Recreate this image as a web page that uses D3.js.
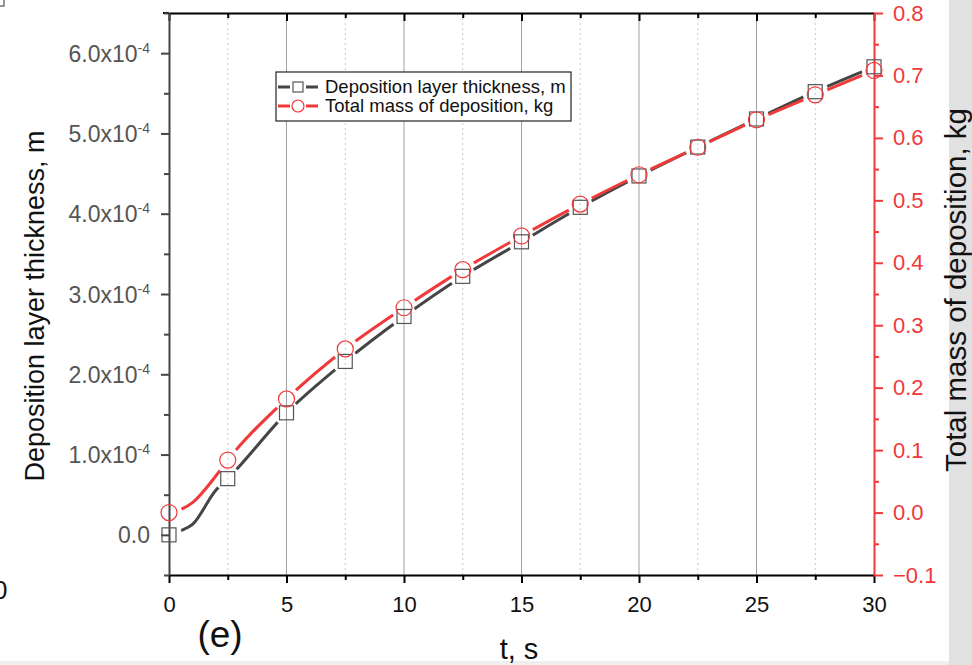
<!doctype html>
<html lang="en">
<head>
<meta charset="utf-8">
<title>Deposition layer thickness and total mass</title>
<script src="https://d3js.org/d3.v7.min.js"></script>
<style>
  body { margin: 0; background: #fff; }
  svg { display: block; font-family: "Liberation Sans", Arial, sans-serif; }
</style>
</head>
<body>
<div id="chart"></div>
<script>
// marker samples (t in s)
const markerT = [0, 2.5, 5, 7.5, 10, 12.5, 15, 17.5, 20, 22.5, 25, 27.5, 30];
// deposition layer thickness, units of 1e-4 m
const thickness = [0, 0.70, 1.52, 2.16, 2.72, 3.22, 3.65, 4.08, 4.47, 4.83, 5.18, 5.52, 5.83];
// total mass of deposition, kg
const mass = [0, 0.084, 0.182, 0.262, 0.328, 0.389, 0.443, 0.494, 0.541, 0.585, 0.629, 0.669, 0.708];

// curves, read a bit denser near the start
const lineT = [0, 0.5, 1, 2, 2.5, 5, 7.5, 10, 12.5, 15, 17.5, 20, 22.5, 25, 27.5, 30];
const thicknessLine = [0, 0.05, 0.13, 0.56, 0.70, 1.52, 2.16, 2.72, 3.22, 3.65, 4.08, 4.47, 4.83, 5.18, 5.52, 5.83];
const massLine = [0, 0.005, 0.016, 0.059, 0.084, 0.182, 0.262, 0.328, 0.389, 0.443, 0.494, 0.541, 0.585, 0.629, 0.669, 0.708];

const xMajor = [0, 5, 10, 15, 20, 25, 30];
const xMinor = [2.5, 7.5, 12.5, 17.5, 22.5, 27.5];
const leftMajor = [0, 1, 2, 3, 4, 5, 6];
const leftMinor = [-0.5, 0.5, 1.5, 2.5, 3.5, 4.5, 5.5, 6.5];
const rightMajor = [-0.1, 0, 0.1, 0.2, 0.3, 0.4, 0.5, 0.6, 0.7, 0.8];
const rightMinor = [-0.05, 0.05, 0.15, 0.25, 0.35, 0.45, 0.55, 0.65, 0.75];

const W = 972, H = 665;
const margin = {top: 13, right: 98, bottom: 90, left: 169};
const width = W - margin.left - margin.right,
      height = H - margin.top - margin.bottom;

const RED = "#f03a3a", GRAY = "#454545";

const svg = d3.select("#chart").append("svg")
  .attr("width", W).attr("height", H);

// page edges (cropped figure)
svg.append("rect").attr("x", 949).attr("y", 0).attr("width", 23).attr("height", H).attr("fill", "#e1e1e1");
svg.append("rect").attr("x", 0).attr("y", 661).attr("width", 949).attr("height", 4).attr("fill", "#efefef");
svg.append("text").attr("x", -7).attr("y", 599).style("font-size", "26px").attr("fill", "#111").text("0");
svg.append("rect").attr("x", -4).attr("y", -4).attr("width", 8).attr("height", 10)
  .attr("fill", "none").attr("stroke", "#333");

const g = svg.append("g").attr("transform", `translate(${margin.left},${margin.top})`);

const x = d3.scaleLinear().domain([0, 30]).range([0, width]);
const yL = d3.scaleLinear().domain([-0.5, 6.5]).range([height, 0]);
const yR = d3.scaleLinear().domain([-0.1, 0.8]).range([height, 0]);

// vertical grid
g.append("g").selectAll("line").data(xMajor.filter(d => d > 0 && d < 30)).join("line")
  .attr("x1", d => x(d)).attr("x2", d => x(d)).attr("y1", 0).attr("y2", height)
  .attr("stroke", "#a0a0a0").attr("stroke-width", 1);
g.append("g").selectAll("line").data(xMinor).join("line")
  .attr("x1", d => x(d)).attr("x2", d => x(d)).attr("y1", 0).attr("y2", height)
  .attr("stroke", "#c8c8c8").attr("stroke-width", 1).attr("stroke-dasharray", "2,3");

// bottom axis
const xAxis = g.append("g").attr("transform", `translate(0,${height})`)
  .call(d3.axisBottom(x).tickValues(xMajor).tickSize(8).tickSizeOuter(0).tickPadding(13).tickFormat(d3.format("d")));
xAxis.select(".domain").attr("stroke", "#000").attr("stroke-width", 2);
xAxis.selectAll(".tick line").attr("stroke", "#000").attr("stroke-width", 2);
xAxis.selectAll("text").style("font-size", "22px").attr("fill", "#111");
g.append("g").attr("transform", `translate(0,${height})`)
  .call(d3.axisBottom(x).tickValues(xMinor).tickSize(5).tickFormat(""))
  .call(a => a.select(".domain").remove())
  .selectAll(".tick line").attr("stroke", "#000").attr("stroke-width", 2);

// top axis, ticks pointing in
const topAxis = g.append("g")
  .call(d3.axisTop(x).tickValues(xMajor).tickSize(-8).tickSizeOuter(0).tickFormat(""));
topAxis.select(".domain").attr("stroke", "#000").attr("stroke-width", 2);
topAxis.selectAll(".tick line").attr("stroke", "#000").attr("stroke-width", 2);
g.append("g")
  .call(d3.axisTop(x).tickValues(xMinor).tickSize(-5).tickFormat(""))
  .call(a => a.select(".domain").remove())
  .selectAll(".tick line").attr("stroke", "#000").attr("stroke-width", 2);
g.append("line").attr("x1", -6).attr("x2", 0).attr("y1", 0).attr("y2", 0).attr("stroke", "#000").attr("stroke-width", 2);

// left axis
const leftAxis = g.append("g")
  .call(d3.axisLeft(yL).tickValues(leftMajor).tickSize(8).tickSizeOuter(0).tickFormat(""));
leftAxis.select(".domain").attr("stroke", GRAY).attr("stroke-width", 2);
leftAxis.selectAll(".tick line").attr("stroke", GRAY).attr("stroke-width", 2);
leftAxis.selectAll(".tick").append("text")
  .attr("x", -19).attr("dy", "0.35em").attr("text-anchor", "end")
  .attr("fill", "#555").style("font-size", "23px")
  .each(function(d) {
    const t = d3.select(this);
    if (d === 0) { t.text("0.0"); return; }
    t.append("tspan").text(d.toFixed(1) + "x10");
    t.append("tspan").attr("dy", "-9").style("font-size", "14px").text("-4");
  });
g.append("g")
  .call(d3.axisLeft(yL).tickValues(leftMinor).tickSize(5).tickFormat(""))
  .call(a => a.select(".domain").remove())
  .selectAll(".tick line").attr("stroke", GRAY).attr("stroke-width", 2);

// right axis (red)
const rightAxis = g.append("g").attr("transform", `translate(${width},0)`)
  .call(d3.axisRight(yR).tickValues(rightMajor).tickSize(9).tickSizeOuter(0).tickPadding(10).tickFormat(d3.format(".1f")));
rightAxis.select(".domain").attr("stroke", RED).attr("stroke-width", 2);
rightAxis.selectAll(".tick line").attr("stroke", RED).attr("stroke-width", 2);
rightAxis.selectAll("text").attr("fill", RED).style("font-size", "22px");
g.append("g").attr("transform", `translate(${width},0)`)
  .call(d3.axisRight(yR).tickValues(rightMinor).tickSize(5).tickFormat(""))
  .call(a => a.select(".domain").remove())
  .selectAll(".tick line").attr("stroke", RED).attr("stroke-width", 2);

// axis titles
svg.append("text")
  .attr("transform", "translate(44,306) rotate(-90)")
  .attr("text-anchor", "middle").style("font-size", "27px").attr("fill", "#111")
  .text("Deposition layer thickness, m");
svg.append("text")
  .attr("transform", "translate(966,290) rotate(-90)")
  .attr("text-anchor", "middle").style("font-size", "29.5px").attr("fill", "#111")
  .text("Total mass of deposition, kg");
svg.append("text")
  .attr("x", 519).attr("y", 659)
  .attr("text-anchor", "middle").style("font-size", "29px").attr("fill", "#111")
  .text("t, s");
svg.append("text")
  .attr("x", 220).attr("y", 647)
  .attr("text-anchor", "middle").style("font-size", "37px").attr("fill", "#111")
  .text("(e)");

// masks so the lines stop short of the markers
const defs = svg.append("defs");
function makeMask(id, ys) {
  const m = defs.append("mask").attr("id", id).attr("maskUnits", "userSpaceOnUse")
    .attr("x", -50).attr("y", -50).attr("width", W + 100).attr("height", H + 100);
  m.append("rect").attr("x", -50).attr("y", -50).attr("width", W + 100).attr("height", H + 100).attr("fill", "#fff");
  m.selectAll("circle").data(markerT).join("circle")
    .attr("cx", d => x(d)).attr("cy", (d, i) => ys(i)).attr("r", 13).attr("fill", "#000");
}
makeMask("mThick", i => yL(thickness[i]));
makeMask("mMass", i => yR(mass[i]));

const lineThick = d3.line().x((d, i) => x(lineT[i])).y(d => yL(d)).curve(d3.curveMonotoneX);
const lineMass = d3.line().x((d, i) => x(lineT[i])).y(d => yR(d)).curve(d3.curveMonotoneX);

g.append("path").datum(thicknessLine).attr("d", lineThick)
  .attr("fill", "none").attr("stroke", GRAY).attr("stroke-width", 3).attr("mask", "url(#mThick)");
g.append("path").datum(massLine).attr("d", lineMass)
  .attr("fill", "none").attr("stroke", RED).attr("stroke-width", 3).attr("mask", "url(#mMass)");

// markers
g.append("g").selectAll("rect").data(markerT).join("rect")
  .attr("x", d => x(d) - 7).attr("y", (d, i) => yL(thickness[i]) - 7)
  .attr("width", 14).attr("height", 14)
  .attr("fill", "none").attr("stroke", "#555").attr("stroke-width", 1.2);
g.append("g").selectAll("circle").data(markerT).join("circle")
  .attr("cx", d => x(d)).attr("cy", (d, i) => yR(mass[i])).attr("r", 8)
  .attr("fill", "none").attr("stroke", RED).attr("stroke-width", 1.2);

// legend
const lg = svg.append("g").attr("transform", "translate(276,72)");
lg.append("rect").attr("width", 295).attr("height", 49)
  .attr("fill", "#fff").attr("stroke", "#222").attr("stroke-width", 1.2);
const legendItems = [
  {label: "Deposition layer thickness, m", color: GRAY, shape: "square", y: 15},
  {label: "Total mass of deposition, kg", color: RED, shape: "circle", y: 34}
];
legendItems.forEach(it => {
  lg.append("line").attr("x1", 2).attr("x2", 14).attr("y1", it.y).attr("y2", it.y)
    .attr("stroke", it.color).attr("stroke-width", 3);
  lg.append("line").attr("x1", 30).attr("x2", 42).attr("y1", it.y).attr("y2", it.y)
    .attr("stroke", it.color).attr("stroke-width", 3);
  if (it.shape === "square") {
    lg.append("rect").attr("x", 17).attr("y", it.y - 5).attr("width", 10).attr("height", 10)
      .attr("fill", "none").attr("stroke", "#555").attr("stroke-width", 1.2);
  } else {
    lg.append("circle").attr("cx", 22).attr("cy", it.y).attr("r", 6)
      .attr("fill", "none").attr("stroke", it.color).attr("stroke-width", 1.2);
  }
  lg.append("text").attr("x", 49).attr("y", it.y).attr("dy", "0.35em")
    .style("font-size", "18.5px").attr("fill", "#111").text(it.label);
});
</script>
</body>
</html>
